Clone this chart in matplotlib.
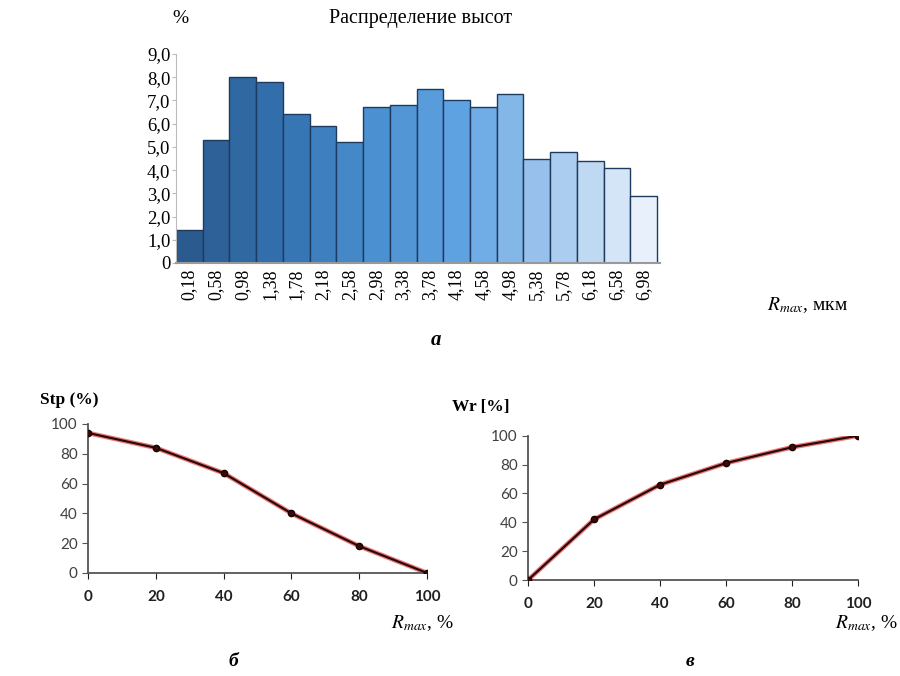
import matplotlib
matplotlib.use("Agg")
import matplotlib.pyplot as plt
import numpy as np
from matplotlib.colors import LinearSegmentedColormap

plt.rcParams['font.family'] = ['Liberation Serif', 'DejaVu Serif']
plt.rcParams['mathtext.fontset'] = 'stix'

# распределение высот
bin_labels = ['0,18', '0,58', '0,98', '1,38', '1,78', '2,18', '2,58', '2,98', '3,38',
              '3,78', '4,18', '4,58', '4,98', '5,38', '5,78', '6,18', '6,58', '6,98']
heights = [1.4, 5.3, 8.0, 7.8, 6.4, 5.9, 5.2, 6.7, 6.8,
           7.5, 7.0, 6.7, 7.3, 4.5, 4.8, 4.4, 4.1, 2.9]
y_ticks = [0, 1, 2, 3, 4, 5, 6, 7, 8, 9]
y_tick_labels = ['0', '1,0', '2,0', '3,0', '4,0', '5,0', '6,0', '7,0', '8,0', '9,0']

# нижние графики
rmax = [0, 20, 40, 60, 80, 100]
stp = [94, 84, 67, 40, 18, 0]
wr = [0, 42, 66, 81, 92, 100]
small_ticks = [0, 20, 40, 60, 80, 100]

fig = plt.figure(figsize=(9, 6.76), dpi=100)

# --- a ---
ax = fig.add_axes([0.1956, 0.611, 0.538, 0.309])
cmap = LinearSegmentedColormap.from_list(
    'bars', ['#2B5A8E', '#3371B0', '#4A8FCF', '#60A3E2', '#A3C8EE', '#E8F1FB'])
n = len(heights)
colors = [cmap(i / (n - 1)) for i in range(n)]
x = np.arange(n)
ax.bar(x, heights, width=1.0, align='edge', color=colors,
       edgecolor='#1E3A5E', linewidth=1.0)
ax.set_xlim(0, n + 0.12)
ax.set_ylim(0, 9)
ax.set_yticks(y_ticks)
ax.set_yticklabels(y_tick_labels, fontsize=13.5)
ax.set_xticks(x + 0.5)
ax.set_xticklabels(bin_labels, rotation=90, fontsize=13)
ax.tick_params(axis='x', length=0, pad=4)
ax.tick_params(axis='y', length=3, color='#BBBBBB', pad=1)
for s in ['top', 'right']:
    ax.spines[s].set_visible(False)
ax.spines['left'].set_color('#BBBBBB')
ax.spines['bottom'].set_color('#999999')
ax.spines['bottom'].set_linewidth(1.5)

fig.text(0.2, 0.973, '%', fontsize=14, ha='center', va='center')
fig.text(0.467, 0.973, 'Распределение высот', fontsize=14.5, ha='center', va='center')
fig.text(0.897, 0.548, r'$R_{max}$, мкм', fontsize=14, ha='center', va='center')
fig.text(0.484, 0.497, 'a', fontsize=15, ha='center', va='center',
         fontweight='bold', fontstyle='italic')


def small_plot(rect, values, ylabel, ylabel_x, ylabel_y):
    a = fig.add_axes(rect)
    a.plot(rmax, values, color='#E02020', linewidth=3.4, alpha=0.6, zorder=2)
    a.plot(rmax, values, color='#2A0A0A', linewidth=1.6, zorder=3,
           marker='o', markersize=4.5, markerfacecolor='#3A0A0A',
           markeredgecolor='#1A0000')
    a.set_xlim(0, 100)
    a.set_ylim(0, 100)
    a.set_xticks(small_ticks)
    a.set_yticks(small_ticks)
    a.tick_params(axis='both', labelsize=11, colors='#404040', length=4,
                  color='#555555', labelfontfamily='Lato')
    a.tick_params(axis='x', pad=8, colors='#202020')
    for lab in a.get_xticklabels():
        lab.set_fontweight('bold')
    for s in ['top', 'right']:
        a.spines[s].set_visible(False)
    for s in ['left', 'bottom']:
        a.spines[s].set_color('#555555')
        a.spines[s].set_linewidth(1.3)
    fig.text(ylabel_x, ylabel_y, ylabel, fontsize=12.5, fontweight='bold',
             ha='left', va='center')
    return a


small_plot([0.0978, 0.1524, 0.3767, 0.2204], stp, 'Stp (%)', 0.044, 0.408)
small_plot([0.5867, 0.142, 0.3667, 0.2135], wr, 'Wr [%]', 0.502, 0.398)

fig.text(0.469, 0.078, r'$R_{max}$, %', fontsize=14, ha='center', va='center')
fig.text(0.963, 0.078, r'$R_{max}$, %', fontsize=14, ha='center', va='center')
fig.text(0.259, 0.022, 'б', fontsize=14, ha='center', va='center',
         fontweight='bold', fontstyle='italic')
fig.text(0.767, 0.022, 'в', fontsize=14, ha='center', va='center',
         fontweight='bold', fontstyle='italic')

fig.savefig('out.png', dpi=100)
